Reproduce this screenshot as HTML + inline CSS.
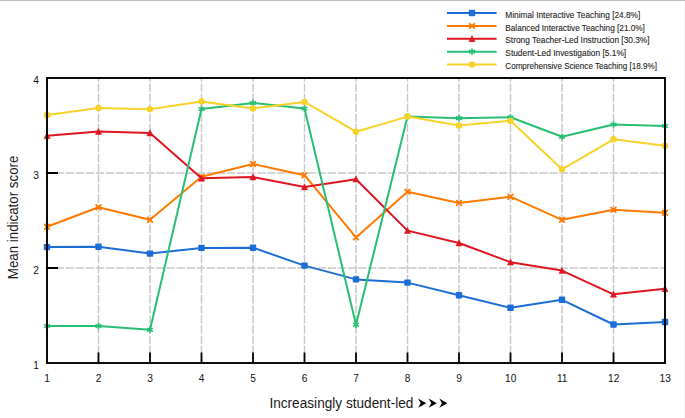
<!DOCTYPE html><html><head><meta charset="utf-8"><style>html,body{margin:0;padding:0;background:#fff;width:685px;height:418px;overflow:hidden}svg{display:block;position:absolute;left:0;top:0}</style></head><body>
<svg width="685" height="418" viewBox="0 0 685 418" font-family="Liberation Sans, sans-serif">
<rect x="0" y="0" width="685" height="1" fill="#bdbdbd"/><rect x="0" y="1" width="685" height="1" fill="#fafafa"/><rect x="684" y="1" width="1" height="417" fill="#f6f6f6"/>
<path d="M98.50,364V78M150.00,364V78M201.50,364V78M253.00,364V78M304.50,364V78M356.00,364V78M407.50,364V78M459.00,364V78M510.50,364V78M562.00,364V78M613.50,364V78" stroke="#c9c9cc" stroke-width="1.5" stroke-dasharray="8.4 1.68" fill="none"/>
<path d="M45.4,268H664M45.4,173H664" stroke="#c9c9cc" stroke-width="1.5" stroke-dasharray="8.4 1.68" fill="none"/>
<path d="M98.50,363V352.5M150.00,363V352.5M201.50,363V352.5M253.00,363V352.5M304.50,363V352.5M356.00,363V352.5M407.50,363V352.5M459.00,363V352.5M510.50,363V352.5M562.00,363V352.5M613.50,363V352.5M47,268H58M47,173H58" stroke="#000" stroke-width="1.8" fill="none"/>
<polyline points="47.00,247.10 98.50,246.70 150.00,253.60 201.50,247.90 253.00,247.70 304.50,265.60 356.00,279.40 407.50,282.60 459.00,295.20 510.50,307.80 562.00,299.80 613.50,324.50 665.00,322.00" fill="none" stroke="#1c6ed6" stroke-width="2" stroke-linejoin="round"/>
<rect x="43.80" y="243.90" width="6.4" height="6.4" rx="0.8" fill="#1c6ed6"/>
<rect x="95.30" y="243.50" width="6.4" height="6.4" rx="0.8" fill="#1c6ed6"/>
<rect x="146.80" y="250.40" width="6.4" height="6.4" rx="0.8" fill="#1c6ed6"/>
<rect x="198.30" y="244.70" width="6.4" height="6.4" rx="0.8" fill="#1c6ed6"/>
<rect x="249.80" y="244.50" width="6.4" height="6.4" rx="0.8" fill="#1c6ed6"/>
<rect x="301.30" y="262.40" width="6.4" height="6.4" rx="0.8" fill="#1c6ed6"/>
<rect x="352.80" y="276.20" width="6.4" height="6.4" rx="0.8" fill="#1c6ed6"/>
<rect x="404.30" y="279.40" width="6.4" height="6.4" rx="0.8" fill="#1c6ed6"/>
<rect x="455.80" y="292.00" width="6.4" height="6.4" rx="0.8" fill="#1c6ed6"/>
<rect x="507.30" y="304.60" width="6.4" height="6.4" rx="0.8" fill="#1c6ed6"/>
<rect x="558.80" y="296.60" width="6.4" height="6.4" rx="0.8" fill="#1c6ed6"/>
<rect x="610.30" y="321.30" width="6.4" height="6.4" rx="0.8" fill="#1c6ed6"/>
<rect x="661.80" y="318.80" width="6.4" height="6.4" rx="0.8" fill="#1c6ed6"/>
<polyline points="47.00,226.80 98.50,207.30 150.00,219.70 201.50,176.80 253.00,164.00 304.50,175.20 356.00,237.40 407.50,191.80 459.00,202.90 510.50,196.70 562.00,219.80 613.50,209.80 665.00,212.80" fill="none" stroke="#ff7a00" stroke-width="2" stroke-linejoin="round"/>
<path d="M44.70,224.50L49.30,229.10M44.70,229.10L49.30,224.50" stroke="#ff7a00" stroke-width="1.8" stroke-linecap="round" fill="none"/>
<path d="M96.20,205.00L100.80,209.60M96.20,209.60L100.80,205.00" stroke="#ff7a00" stroke-width="1.8" stroke-linecap="round" fill="none"/>
<path d="M147.70,217.40L152.30,222.00M147.70,222.00L152.30,217.40" stroke="#ff7a00" stroke-width="1.8" stroke-linecap="round" fill="none"/>
<path d="M199.20,174.50L203.80,179.10M199.20,179.10L203.80,174.50" stroke="#ff7a00" stroke-width="1.8" stroke-linecap="round" fill="none"/>
<path d="M250.70,161.70L255.30,166.30M250.70,166.30L255.30,161.70" stroke="#ff7a00" stroke-width="1.8" stroke-linecap="round" fill="none"/>
<path d="M302.20,172.90L306.80,177.50M302.20,177.50L306.80,172.90" stroke="#ff7a00" stroke-width="1.8" stroke-linecap="round" fill="none"/>
<path d="M353.70,235.10L358.30,239.70M353.70,239.70L358.30,235.10" stroke="#ff7a00" stroke-width="1.8" stroke-linecap="round" fill="none"/>
<path d="M405.20,189.50L409.80,194.10M405.20,194.10L409.80,189.50" stroke="#ff7a00" stroke-width="1.8" stroke-linecap="round" fill="none"/>
<path d="M456.70,200.60L461.30,205.20M456.70,205.20L461.30,200.60" stroke="#ff7a00" stroke-width="1.8" stroke-linecap="round" fill="none"/>
<path d="M508.20,194.40L512.80,199.00M508.20,199.00L512.80,194.40" stroke="#ff7a00" stroke-width="1.8" stroke-linecap="round" fill="none"/>
<path d="M559.70,217.50L564.30,222.10M559.70,222.10L564.30,217.50" stroke="#ff7a00" stroke-width="1.8" stroke-linecap="round" fill="none"/>
<path d="M611.20,207.50L615.80,212.10M611.20,212.10L615.80,207.50" stroke="#ff7a00" stroke-width="1.8" stroke-linecap="round" fill="none"/>
<path d="M662.70,210.50L667.30,215.10M662.70,215.10L667.30,210.50" stroke="#ff7a00" stroke-width="1.8" stroke-linecap="round" fill="none"/>
<polyline points="47.00,135.80 98.50,131.60 150.00,133.00 201.50,178.30 253.00,177.00 304.50,187.00 356.00,179.20 407.50,230.60 459.00,243.00 510.50,262.20 562.00,270.60 613.50,294.30 665.00,288.80" fill="none" stroke="#de1621" stroke-width="2" stroke-linejoin="round"/>
<path d="M47.00,132.60L50.10,138.70L43.90,138.70Z" fill="#de1621" stroke="#de1621" stroke-width="0.5" stroke-linejoin="round"/>
<path d="M98.50,128.40L101.60,134.50L95.40,134.50Z" fill="#de1621" stroke="#de1621" stroke-width="0.5" stroke-linejoin="round"/>
<path d="M150.00,129.80L153.10,135.90L146.90,135.90Z" fill="#de1621" stroke="#de1621" stroke-width="0.5" stroke-linejoin="round"/>
<path d="M201.50,175.10L204.60,181.20L198.40,181.20Z" fill="#de1621" stroke="#de1621" stroke-width="0.5" stroke-linejoin="round"/>
<path d="M253.00,173.80L256.10,179.90L249.90,179.90Z" fill="#de1621" stroke="#de1621" stroke-width="0.5" stroke-linejoin="round"/>
<path d="M304.50,183.80L307.60,189.90L301.40,189.90Z" fill="#de1621" stroke="#de1621" stroke-width="0.5" stroke-linejoin="round"/>
<path d="M356.00,176.00L359.10,182.10L352.90,182.10Z" fill="#de1621" stroke="#de1621" stroke-width="0.5" stroke-linejoin="round"/>
<path d="M407.50,227.40L410.60,233.50L404.40,233.50Z" fill="#de1621" stroke="#de1621" stroke-width="0.5" stroke-linejoin="round"/>
<path d="M459.00,239.80L462.10,245.90L455.90,245.90Z" fill="#de1621" stroke="#de1621" stroke-width="0.5" stroke-linejoin="round"/>
<path d="M510.50,259.00L513.60,265.10L507.40,265.10Z" fill="#de1621" stroke="#de1621" stroke-width="0.5" stroke-linejoin="round"/>
<path d="M562.00,267.40L565.10,273.50L558.90,273.50Z" fill="#de1621" stroke="#de1621" stroke-width="0.5" stroke-linejoin="round"/>
<path d="M613.50,291.10L616.60,297.20L610.40,297.20Z" fill="#de1621" stroke="#de1621" stroke-width="0.5" stroke-linejoin="round"/>
<path d="M665.00,285.60L668.10,291.70L661.90,291.70Z" fill="#de1621" stroke="#de1621" stroke-width="0.5" stroke-linejoin="round"/>
<polyline points="47.00,326.00 98.50,326.00 150.00,329.80 201.50,109.00 253.00,103.00 304.50,108.50 356.00,324.80 407.50,116.50 459.00,118.20 510.50,117.30 562.00,136.80 613.50,124.50 665.00,126.00" fill="none" stroke="#27bf74" stroke-width="2" stroke-linejoin="round"/>
<path d="M47.00,322.60L47.00,329.40M44.06,324.30L49.94,327.70M44.06,327.70L49.94,324.30" stroke="#27bf74" stroke-width="1.5" fill="none"/>
<path d="M98.50,322.60L98.50,329.40M95.56,324.30L101.44,327.70M95.56,327.70L101.44,324.30" stroke="#27bf74" stroke-width="1.5" fill="none"/>
<path d="M150.00,326.40L150.00,333.20M147.06,328.10L152.94,331.50M147.06,331.50L152.94,328.10" stroke="#27bf74" stroke-width="1.5" fill="none"/>
<path d="M201.50,105.60L201.50,112.40M198.56,107.30L204.44,110.70M198.56,110.70L204.44,107.30" stroke="#27bf74" stroke-width="1.5" fill="none"/>
<path d="M253.00,99.60L253.00,106.40M250.06,101.30L255.94,104.70M250.06,104.70L255.94,101.30" stroke="#27bf74" stroke-width="1.5" fill="none"/>
<path d="M304.50,105.10L304.50,111.90M301.56,106.80L307.44,110.20M301.56,110.20L307.44,106.80" stroke="#27bf74" stroke-width="1.5" fill="none"/>
<path d="M356.00,321.40L356.00,328.20M353.06,323.10L358.94,326.50M353.06,326.50L358.94,323.10" stroke="#27bf74" stroke-width="1.5" fill="none"/>
<path d="M407.50,113.10L407.50,119.90M404.56,114.80L410.44,118.20M404.56,118.20L410.44,114.80" stroke="#27bf74" stroke-width="1.5" fill="none"/>
<path d="M459.00,114.80L459.00,121.60M456.06,116.50L461.94,119.90M456.06,119.90L461.94,116.50" stroke="#27bf74" stroke-width="1.5" fill="none"/>
<path d="M510.50,113.90L510.50,120.70M507.56,115.60L513.44,119.00M507.56,119.00L513.44,115.60" stroke="#27bf74" stroke-width="1.5" fill="none"/>
<path d="M562.00,133.40L562.00,140.20M559.06,135.10L564.94,138.50M559.06,138.50L564.94,135.10" stroke="#27bf74" stroke-width="1.5" fill="none"/>
<path d="M613.50,121.10L613.50,127.90M610.56,122.80L616.44,126.20M610.56,126.20L616.44,122.80" stroke="#27bf74" stroke-width="1.5" fill="none"/>
<path d="M665.00,122.60L665.00,129.40M662.06,124.30L667.94,127.70M662.06,127.70L667.94,124.30" stroke="#27bf74" stroke-width="1.5" fill="none"/>
<polyline points="47.00,114.90 98.50,108.00 150.00,109.30 201.50,101.60 253.00,108.40 304.50,101.90 356.00,131.70 407.50,116.60 459.00,125.40 510.50,120.80 562.00,169.30 613.50,139.30 665.00,145.80" fill="none" stroke="#f7d22b" stroke-width="2" stroke-linejoin="round"/>
<circle cx="47.00" cy="114.90" r="3.25" fill="#f7d22b"/>
<circle cx="98.50" cy="108.00" r="3.25" fill="#f7d22b"/>
<circle cx="150.00" cy="109.30" r="3.25" fill="#f7d22b"/>
<circle cx="201.50" cy="101.60" r="3.25" fill="#f7d22b"/>
<circle cx="253.00" cy="108.40" r="3.25" fill="#f7d22b"/>
<circle cx="304.50" cy="101.90" r="3.25" fill="#f7d22b"/>
<circle cx="356.00" cy="131.70" r="3.25" fill="#f7d22b"/>
<circle cx="407.50" cy="116.60" r="3.25" fill="#f7d22b"/>
<circle cx="459.00" cy="125.40" r="3.25" fill="#f7d22b"/>
<circle cx="510.50" cy="120.80" r="3.25" fill="#f7d22b"/>
<circle cx="562.00" cy="169.30" r="3.25" fill="#f7d22b"/>
<circle cx="613.50" cy="139.30" r="3.25" fill="#f7d22b"/>
<circle cx="665.00" cy="145.80" r="3.25" fill="#f7d22b"/>
<rect x="47" y="78" width="618" height="285" fill="none" stroke="#000" stroke-width="1.9"/>
<text x="38.8" y="368.7" font-size="10.2" text-anchor="end" fill="#111">1</text>
<text x="38.8" y="273.7" font-size="10.2" text-anchor="end" fill="#111">2</text>
<text x="38.8" y="178.7" font-size="10.2" text-anchor="end" fill="#111">3</text>
<text x="38.8" y="83.7" font-size="10.2" text-anchor="end" fill="#111">4</text>
<text x="47.20" y="381.7" font-size="10.2" text-anchor="middle" fill="#111">1</text>
<text x="98.70" y="381.7" font-size="10.2" text-anchor="middle" fill="#111">2</text>
<text x="150.20" y="381.7" font-size="10.2" text-anchor="middle" fill="#111">3</text>
<text x="201.70" y="381.7" font-size="10.2" text-anchor="middle" fill="#111">4</text>
<text x="253.20" y="381.7" font-size="10.2" text-anchor="middle" fill="#111">5</text>
<text x="304.70" y="381.7" font-size="10.2" text-anchor="middle" fill="#111">6</text>
<text x="356.20" y="381.7" font-size="10.2" text-anchor="middle" fill="#111">7</text>
<text x="407.70" y="381.7" font-size="10.2" text-anchor="middle" fill="#111">8</text>
<text x="459.20" y="381.7" font-size="10.2" text-anchor="middle" fill="#111">9</text>
<text x="510.70" y="381.7" font-size="10.2" text-anchor="middle" fill="#111">10</text>
<text x="562.20" y="381.7" font-size="10.2" text-anchor="middle" fill="#111">11</text>
<text x="613.70" y="381.7" font-size="10.2" text-anchor="middle" fill="#111">12</text>
<text x="665.20" y="381.7" font-size="10.2" text-anchor="middle" fill="#111">13</text>
<text transform="translate(17.9,279.2) rotate(-90)" font-size="13.8" textLength="123.6" lengthAdjust="spacingAndGlyphs" fill="#1a1a1a">Mean indicator score</text>
<text x="269.4" y="408.0" font-size="13.8" textLength="144" lengthAdjust="spacingAndGlyphs" fill="#1a1a1a">Increasingly student-led</text>
<path d="M418.10,398.6L426.20,403.2L418.10,407.8L420.70,403.2ZM428.70,398.6L436.80,403.2L428.70,407.8L431.30,403.2ZM439.30,398.6L447.40,403.2L439.30,407.8L441.90,403.2Z" fill="#000"/>
<path d="M447,13.00H496.6" stroke="#1c6ed6" stroke-width="2"/>
<rect x="468.80" y="9.80" width="6.4" height="6.4" rx="0.8" fill="#1c6ed6"/>
<text x="505.3" y="17.60" font-size="9" textLength="135" lengthAdjust="spacingAndGlyphs" fill="#222" stroke="#222" stroke-width="0.1">Minimal Interactive Teaching [24.8%]</text>
<path d="M447,25.90H496.6" stroke="#ff7a00" stroke-width="2"/>
<path d="M469.70,23.60L474.30,28.20M469.70,28.20L474.30,23.60" stroke="#ff7a00" stroke-width="1.8" stroke-linecap="round" fill="none"/>
<text x="505.3" y="30.50" font-size="9" textLength="139.6" lengthAdjust="spacingAndGlyphs" fill="#222" stroke="#222" stroke-width="0.1">Balanced Interactive Teaching [21.0%]</text>
<path d="M447,38.80H496.6" stroke="#de1621" stroke-width="2"/>
<path d="M472.00,35.60L475.10,41.70L468.90,41.70Z" fill="#de1621" stroke="#de1621" stroke-width="0.5" stroke-linejoin="round"/>
<text x="505.3" y="43.40" font-size="9" textLength="144.3" lengthAdjust="spacingAndGlyphs" fill="#222" stroke="#222" stroke-width="0.1">Strong Teacher-Led Instruction [30.3%]</text>
<path d="M447,51.70H496.6" stroke="#27bf74" stroke-width="2"/>
<path d="M472.00,48.30L472.00,55.10M469.06,50.00L474.94,53.40M469.06,53.40L474.94,50.00" stroke="#27bf74" stroke-width="1.5" fill="none"/>
<text x="505.3" y="56.30" font-size="9" textLength="120.9" lengthAdjust="spacingAndGlyphs" fill="#222" stroke="#222" stroke-width="0.1">Student-Led Investigation [5.1%]</text>
<path d="M447,64.60H496.6" stroke="#f7d22b" stroke-width="2"/>
<circle cx="472.00" cy="64.60" r="3.25" fill="#f7d22b"/>
<text x="505.3" y="69.20" font-size="9" textLength="151.7" lengthAdjust="spacingAndGlyphs" fill="#222" stroke="#222" stroke-width="0.1">Comprehensive Science Teaching [18.9%]</text>
</svg></body></html>
